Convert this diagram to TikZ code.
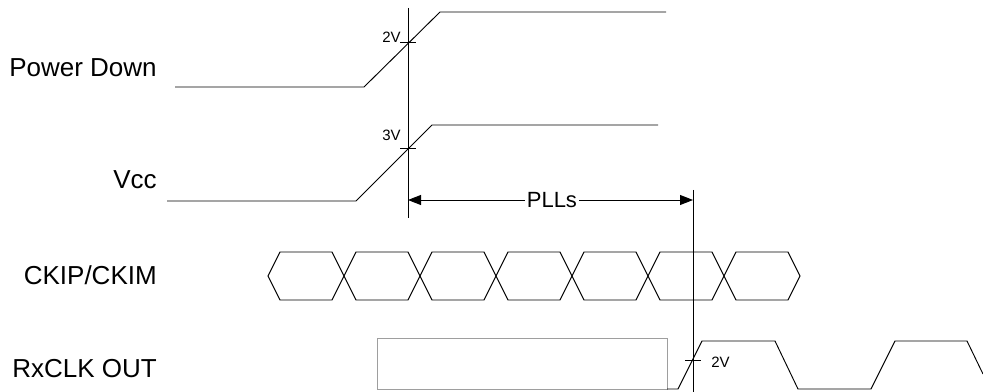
\documentclass[tikz,border=0pt]{standalone}
\usepackage{fontspec}
\setmainfont{Liberation Sans}
\usetikzlibrary{arrows.meta}
\begin{document}
\begin{tikzpicture}[x=0.75pt,y=-0.75pt,
        wave/.style={line width=0.7pt,black},
        marker/.style={line width=0.7pt,black},
        signame/.style={font=\fontsize{19.5}{20}\selectfont,inner sep=0pt},
        level/.style={font=\fontsize{11.25}{12}\selectfont,inner sep=0pt},
        span/.style={line width=0.7pt,{Triangle[length=9.75pt,width=7.5pt]}-{Triangle[length=9.75pt,width=7.5pt]}}]
            \useasboundingbox (0.000000,0.000000) rectangle (983.000000,392.000000);
            
            % Marking signal names
            \node [signame,anchor=base east] (pwd) at (157.000000,77.000000) {Power Down};%
            \node [signame,anchor=base east] (vcc) at (157.000000,189.000000) {Vcc};%
            \node [signame,anchor=base east] (ckip) at (157.000000,285.000000) {CKIP/CKIM};%
            \node [signame,anchor=base east] (rxclk) at (157.000000,378.000000) {RxCLK OUT};%
            
            % Drawing line Power Down
            \draw [wave] (175.000000,87.000000) -- (364.000000,87.000000) -- (440.000000,12.000000) -- (666.000000,12.000000);%
            
            % Drawing line Vcc
            \draw [wave] (167.000000,201.000000) -- (356.000000,201.000000) -- (432.000000,125.000000) -- (658.000000,125.000000);%
            
            % Drawing marker lines
            \draw [marker] (408.000000,8.000000) -- (408.000000,218.000000);%
            \draw [marker] (693.000000,190.000000) -- (693.000000,392.000000);%
            
            % Marking point 2V
            \draw [marker] (400.000000,42.000000) -- (416.000000,42.000000);%
            \node [level,anchor=base east] (lvlpwd) at (401.000000,43.000000) {2V};%
            
            % Marking point 3V
            \draw [marker] (400.000000,148.000000) -- (416.000000,148.000000);%
            \node [level,anchor=base east] (lvlvcc) at (401.000000,141.000000) {3V};%
            
            % Drawing span PLLs
            \coordinate (pllL) at (408.000000,200.000000);%
            \coordinate (pllR) at (693.000000,200.000000);%
            \draw [span] (pllL) -- (pllR) node [pos=0.505,fill=white,inner xsep=1.5pt,inner ysep=0pt,font=\fontsize{16.5}{17}\selectfont] (pll) {PLLs};%
            
            % Drawing clock CKIP/CKIM
            \draw [wave] (268.000000,276.000000) -- (280.000000,252.000000) -- (332.000000,252.000000) -- (344.000000,276.000000) -- (332.000000,300.000000) -- (280.000000,300.000000) -- cycle;%
            \draw [wave] (344.000000,276.000000) -- (356.000000,252.000000) -- (408.000000,252.000000) -- (420.000000,276.000000) -- (408.000000,300.000000) -- (356.000000,300.000000) -- cycle;%
            \draw [wave] (420.000000,276.000000) -- (432.000000,252.000000) -- (484.000000,252.000000) -- (496.000000,276.000000) -- (484.000000,300.000000) -- (432.000000,300.000000) -- cycle;%
            \draw [wave] (496.000000,276.000000) -- (508.000000,252.000000) -- (560.000000,252.000000) -- (572.000000,276.000000) -- (560.000000,300.000000) -- (508.000000,300.000000) -- cycle;%
            \draw [wave] (572.000000,276.000000) -- (584.000000,252.000000) -- (636.000000,252.000000) -- (648.000000,276.000000) -- (636.000000,300.000000) -- (584.000000,300.000000) -- cycle;%
            \draw [wave] (648.000000,276.000000) -- (660.000000,252.000000) -- (712.000000,252.000000) -- (724.000000,276.000000) -- (712.000000,300.000000) -- (660.000000,300.000000) -- cycle;%
            \draw [wave] (724.000000,276.000000) -- (736.000000,252.000000) -- (788.000000,252.000000) -- (800.000000,276.000000) -- (788.000000,300.000000) -- (736.000000,300.000000) -- cycle;%
            
            % Drawing box RxCLK OUT
            \draw [line width=0.7pt,black!38] (377.000000,338.000000) rectangle (667.000000,389.000000);%
            
            % Drawing line RxCLK OUT
            \draw [wave] (667.000000,389.000000) -- (678.000000,389.000000) -- (702.000000,341.000000) -- (775.000000,341.000000) -- (798.000000,389.000000) -- (871.000000,389.000000) -- (895.000000,341.000000) -- (967.000000,341.000000) -- (983.000000,374.000000);%
            
            % Marking point 2V
            \draw [marker] (685.000000,360.000000) -- (701.000000,360.000000);%
            \node [level,anchor=base west] (lvlrx) at (711.000000,368.000000) {2V};%
\end{tikzpicture}
\end{document}
